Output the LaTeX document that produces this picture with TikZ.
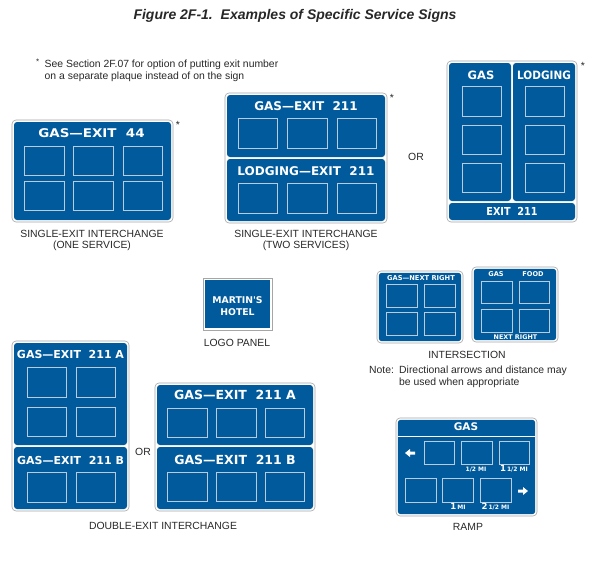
\documentclass[tikz,border=0pt]{standalone}
\usepackage{fontspec}
\setmainfont{Liberation Sans}
\newfontfamily\hwy{DejaVu Sans}
\usepackage{graphicx}
\definecolor{sblue}{RGB}{0,90,156}
\definecolor{slotc}{RGB}{185,203,222}
\definecolor{capc}{RGB}{40,40,40}
\tikzset{
  signout/.style={draw=black!35, fill=white, line width=0.6pt, rounded corners=4pt},
  bluefill/.style={fill=sblue, rounded corners=3pt},
  slot/.style={draw=slotc, line width=0.8pt},
  stxt/.style={text=white, inner sep=0pt, font=\hwy\bfseries\fontsize{#1}{#1}\selectfont},
  stxt/.default=12,
  milab/.style={text=white, inner sep=0pt, anchor=base, font=\hwy\bfseries\fontsize{6}{6}\selectfont},
  captxt/.style={text=capc, inner sep=0pt, font=\fontsize{10.4}{10.4}\selectfont},
  notetxt/.style={text=capc, inner sep=0pt, font=\fontsize{10.4}{10.4}\selectfont, anchor=base west},
}
\newcommand\outerbox[4]{\draw[signout] (#1,#2) rectangle (#3,#4);}
\newcommand\bluebox[4]{\fill[bluefill] (#1,#2) rectangle (#3,#4);}
\newcommand\slotbox[4]{\draw[slot] (#1,#2) rectangle (#3,#4);}
\newcommand\bignum[1]{{\fontsize{8.5}{8.5}\selectfont #1}}
\begin{document}
\begin{tikzpicture}[x=1pt,y=-1pt]
\useasboundingbox (0,0) rectangle (590,562);
\fill[white] (0,0) rectangle (590,562);

% title
\node[text=capc, inner sep=0pt, font=\bfseries\itshape\fontsize{14}{14}\selectfont] (title) at (295,16) {Figure 2F-1.\ \ Examples of Specific Service Signs};
\node[notetxt, font=\fontsize{8}{8}\selectfont] (fnstar) at (36,64) {*};
\node[notetxt] (fn1) at (44.5,67) {See Section 2F.07 for option of putting exit number};
\node[notetxt] (fn2) at (44.5,79) {on a separate plaque instead of on the sign};

% sign 1
\outerbox{12}{120}{173}{222}
\bluebox{14}{122}{171}{220}
\node[stxt] (s1t) at (91.5,133) {\scalebox{1.12}[1]{GAS—EXIT\ \ 44}};
\foreach \xa/\xb in {24/64,73/113,123/162}{
  \foreach \ya/\yb in {146/175,181/210}{\slotbox{\xa}{\ya}{\xb}{\yb}}}
\node[captxt] (s1star) at (178,125) {*};
\node[captxt] (s1c1) at (92,234) {SINGLE-EXIT INTERCHANGE};
\node[captxt] (s1c2) at (92,246) {(ONE SERVICE)};

% sign 2
\outerbox{225}{93}{387}{223}
\bluebox{227}{95}{385}{157}
\bluebox{227}{159}{385}{221}
\node[stxt] (s2t1) at (306,106) {GAS—EXIT\ \ 211};
\node[stxt] (s2t2) at (306,171) {LODGING—EXIT\ \ 211};
\foreach \xa/\xb in {238/277,287/327,337/376}{
  \slotbox{\xa}{118}{\xb}{148}
  \slotbox{\xa}{183}{\xb}{213}}
\node[captxt] (s2star) at (392,98) {*};
\node[captxt] (s2c1) at (306,234) {SINGLE-EXIT INTERCHANGE};
\node[captxt] (s2c2) at (306,246) {(TWO SERVICES)};
\node[captxt] (or1) at (416,157) {OR};

% sign 3
\outerbox{447}{61}{577}{222}
\bluebox{449}{63}{511}{201}
\bluebox{513}{63}{575}{201}
\bluebox{449}{203}{575}{220}
\node[stxt=11.5] (s3a) at (481,75) {GAS};
\node[stxt=11.5] (s3b) at (544,75) {\scalebox{0.91}[1]{LODGING}};
\node[stxt=11] (s3c) at (512,211.5) {\scalebox{0.88}[1]{EXIT\ \ 211}};
\foreach \ya/\yb in {86/116,125/154,163/192}{
  \slotbox{462}{\ya}{501}{\yb}
  \slotbox{525}{\ya}{564}{\yb}}
\node[captxt] (s3star) at (583,66) {*};

% logo panel
\draw[draw=black!35, fill=white, line width=0.6pt] (203,278) rectangle (272,330);
\fill[sblue] (205,280) rectangle (270,328);
\node[stxt=9.3] (lg1) at (237.5,300) {MARTIN'S};
\node[stxt=9.3] (lg2) at (237.5,312) {HOTEL};
\node[captxt] (lgc) at (237,343) {LOGO PANEL};

% intersection A
\outerbox{377}{271}{463}{343}
\bluebox{378.8}{272.8}{461.2}{341.2}
\node[stxt=6.7] (iat) at (421,278) {GAS—NEXT RIGHT};
\foreach \xa/\xb in {386/417,424/455}{
  \slotbox{\xa}{284}{\xb}{307}
  \slotbox{\xa}{312}{\xb}{335}}
% intersection B
\outerbox{472}{267}{558}{342}
\bluebox{473.8}{268.8}{556.2}{340.2}
\node[stxt=6.6] (ibg) at (496,274.5) {GAS};
\node[stxt=6.6] (ibf) at (533,274.5) {FOOD};
\node[stxt=6.4] (ibn) at (515.5,337) {NEXT RIGHT};
\foreach \xa/\xb in {481/512,519/549}{
  \slotbox{\xa}{281}{\xb}{303}
  \slotbox{\xa}{309}{\xb}{332}}
\node[captxt] (ic) at (467,355) {INTERSECTION};
\node[notetxt] (in1) at (369,373.5) {Note:};
\node[notetxt] (in2) at (399,373.5) {Directional arrows and distance may};
\node[notetxt] (in3) at (399,385.5) {be used when appropriate};

% ramp
\outerbox{396}{418}{537}{516}
\bluebox{397.8}{419.8}{535.2}{514.2}
\draw[white, line width=0.9pt] (397.8,436) -- (535.2,436);
\node[stxt=10.5] (rg) at (466,427) {GAS};
\foreach \xa/\xb in {424/454,461/492,499/529}{\slotbox{\xa}{441}{\xb}{464}}
\foreach \xa/\xb in {405/436,442/473,480/511}{\slotbox{\xa}{478}{\xb}{502}}
\node[milab] (r1) at (476,471.5) {1/2 MI};
\node[milab] (r2) at (514,471.5) {\bignum{1}\,1/2 MI};
\node[milab] (r3) at (458,509.5) {\bignum{1}\,MI};
\node[milab] (r4) at (495.5,509.5) {\bignum{2}\,1/2 MI};
\coordinate (la) at (410,453);
\fill[white] (la) ++(-5,0) -- ++(5,-4) -- ++(0,2.5) -- ++(5,0) -- ++(0,3) -- ++(-5,0) -- ++(0,2.5) -- cycle;
\coordinate (ra) at (523,491);
\fill[white] (ra) ++(5,0) -- ++(-5,-4) -- ++(0,2.5) -- ++(-5,0) -- ++(0,3) -- ++(5,0) -- ++(0,2.5) -- cycle;
\node[captxt] (rc) at (468,527) {RAMP};

% double exit left
\outerbox{12}{341}{129}{511}
\bluebox{14}{343}{127}{445}
\bluebox{14}{447}{127}{509}
\node[stxt=11] (dl1) at (70.5,354) {GAS—EXIT\ \ 211 A};
\node[stxt=11] (dl2) at (70.5,460) {GAS—EXIT\ \ 211 B};
\foreach \xa/\xb in {27/66,76/115}{
  \slotbox{\xa}{367}{\xb}{397}
  \slotbox{\xa}{407}{\xb}{436}
  \slotbox{\xa}{472}{\xb}{502}}
\node[captxt] (or2) at (143,452) {OR};

% double exit right
\outerbox{155}{383}{315}{511}
\bluebox{157}{385}{313}{445}
\bluebox{157}{447}{313}{509}
\node[stxt=12.5] (dr1) at (235,395) {GAS—EXIT\ \ 211 A};
\node[stxt=12.5] (dr2) at (235,460) {GAS—EXIT\ \ 211 B};
\foreach \xa/\xb in {167/207,216/256,265/304}{
  \slotbox{\xa}{408}{\xb}{437}
  \slotbox{\xa}{472}{\xb}{501}}
\node[captxt] (dc) at (163,526) {DOUBLE-EXIT INTERCHANGE};
\end{tikzpicture}
\end{document}
